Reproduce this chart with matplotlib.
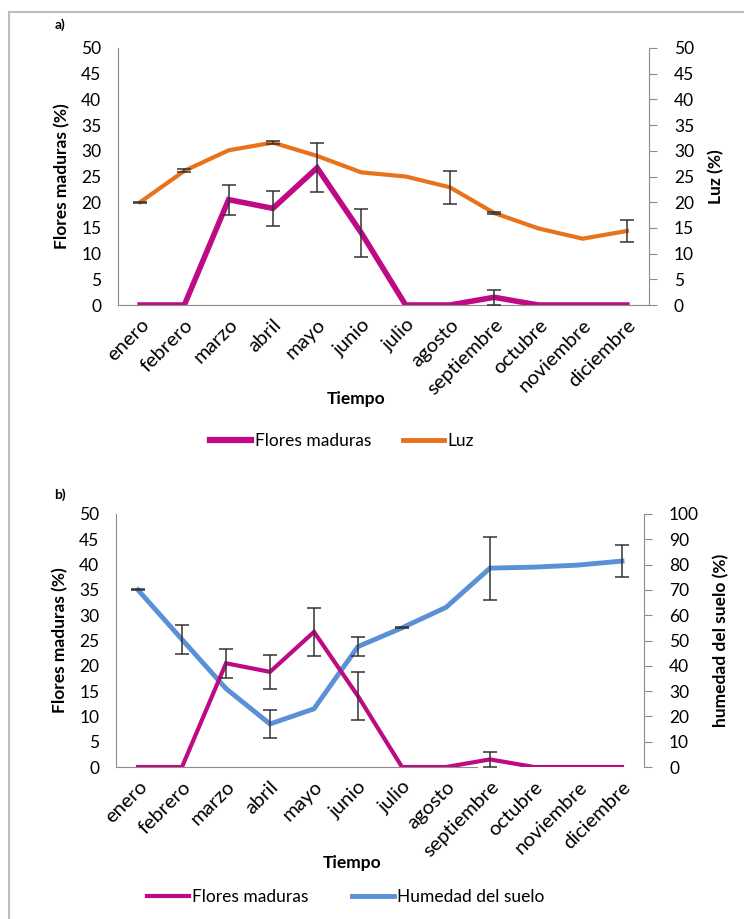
import matplotlib
matplotlib.use("Agg")
import matplotlib.pyplot as plt
from matplotlib.lines import Line2D
import numpy as np

plt.rcParams['font.family'] = ['Lato', 'DejaVu Sans']

meses = ["enero", "febrero", "marzo", "abril", "mayo", "junio", "julio",
         "agosto", "septiembre", "octubre", "noviembre", "diciembre"]

flores = [0, 0, 20.5, 18.8, 26.7, 14.0, 0, 0, 1.5, 0, 0, 0]
flores_err = [0, 0, 2.9, 3.4, 4.8, 4.7, 0, 0, 1.5, 0, 0, 0]

luz = [20.0, 26.1, 30.1, 31.6, 29.0, 25.8, 25.0, 22.9, 17.9, 14.9, 12.9, 14.4]
luz_err = [0.1, 0.3, 0, 0.3, 0, 0, 0, 3.2, 0.1, 0, 0, 2.1]

humedad = [70, 50.4, 31, 17, 23, 47.6, 55, 63.1, 78.6, 79, 79.8, 81.4]
humedad_err = [0.2, 5.6, 0, 5.7, 0, 3.8, 0.2, 0, 12.5, 0, 0, 6.2]

MAG = '#BE0A84'
ORA = '#E8731C'
BLU = '#5A90D6'
SPINE = '#8C8C8C'
ERRC = '#333333'

W, H = 744, 919
fig = plt.figure(figsize=(W / 100, H / 100), dpi=100)

def ax_rect(l, r, t, b):
    return [l / W, 1 - b / H, (r - l) / W, (b - t) / H]

# outer border (top & left)
fig.add_artist(Line2D([9 / W, 1.0], [1 - 12 / H, 1 - 12 / H], color='#BDBDBD', lw=1.5, transform=fig.transFigure))
fig.add_artist(Line2D([9 / W, 9 / W], [0, 1 - 12 / H], color='#BDBDBD', lw=1.5, transform=fig.transFigure))

x = np.arange(len(meses))
TICKFS = 12.5
MONFS = 14.5

def series(ax, vals, errs, color, lw):
    vals = np.asarray(vals, float)
    errs = np.asarray(errs, float)
    ax.plot(x, vals, color=color, lw=lw, solid_joinstyle='miter', zorder=2)
    m = errs > 0
    ax.errorbar(x[m], vals[m], yerr=errs[m], fmt='none', ecolor=ERRC,
                elinewidth=1.1, capsize=5, capthick=1.1, zorder=3)

def style(ax, ax2):
    for a in (ax, ax2):
        a.spines['top'].set_visible(False)
    ax.spines['right'].set_visible(False)
    ax2.spines['left'].set_visible(False)
    ax2.spines['bottom'].set_visible(False)
    ax.spines['left'].set_color(SPINE)
    ax.spines['bottom'].set_color(SPINE)
    ax2.spines['right'].set_color(SPINE)
    ax.tick_params(axis='y', length=0, pad=12, labelsize=TICKFS)
    ax.tick_params(axis='x', length=0, pad=8, labelsize=MONFS)
    ax2.tick_params(axis='y', length=6, color=SPINE, pad=12, labelsize=TICKFS)
    ax.set_xlim(-0.5, 11.5)
    ax.set_xticks(x)
    ax.set_xticklabels(meses, rotation=45, ha='right', va='top', rotation_mode='anchor')

# ---------------- panel a ----------------
ax = fig.add_axes(ax_rect(118, 649, 48, 305))
ax2 = ax.twinx()
series(ax2, luz, luz_err, ORA, 3)
ax.set_zorder(ax2.get_zorder() + 1)
ax.patch.set_visible(False)
series(ax, flores, flores_err, MAG, 4)
ax.set_ylim(0, 50)
ax2.set_ylim(0, 50)
ax.set_yticks(range(0, 51, 5))
ax2.set_yticks(range(0, 51, 5))
style(ax, ax2)
ax.set_ylabel("Flores maduras (%)", fontsize=12.5, fontweight='bold', labelpad=8)
ax2.set_ylabel("Luz (%)", fontsize=12.5, fontweight='bold', rotation=90, labelpad=10)
fig.text(356 / W, 1 - 399 / H, "Tiempo", ha='center', va='center', fontsize=12.5, fontweight='bold')
fig.text(60 / W, 1 - 25 / H, "a)", ha='center', va='center', fontsize=10, fontweight='bold')
h1 = Line2D([], [], color=MAG, lw=4.5)
h2 = Line2D([], [], color=ORA, lw=3.5)
fig.legend([h1, h2], ["Flores maduras", "Luz"], loc='center', bbox_to_anchor=(342 / W, 1 - 441 / H),
           ncol=2, frameon=False, fontsize=12.5, handlelength=2.4, handletextpad=0.2, columnspacing=1.8)

# ---------------- panel b ----------------
bx = fig.add_axes(ax_rect(116, 644, 514, 767))
bx2 = bx.twinx()
series(bx2, humedad, humedad_err, BLU, 3.5)
bx.set_zorder(bx2.get_zorder() + 1)
bx.patch.set_visible(False)
series(bx, flores, flores_err, MAG, 3)
bx.set_ylim(0, 50)
bx2.set_ylim(0, 100)
bx.set_yticks(range(0, 51, 5))
bx2.set_yticks(range(0, 101, 10))
style(bx, bx2)
bx.spines['bottom'].set_bounds(-0.5, 7.7)
bx.set_ylabel("Flores maduras (%)", fontsize=12.5, fontweight='bold', labelpad=8)
bx2.set_ylabel("humedad del suelo (%)", fontsize=12.5, fontweight='bold', rotation=90, labelpad=10)
fig.text(352 / W, 1 - 863 / H, "Tiempo", ha='center', va='center', fontsize=12.5, fontweight='bold')
fig.text(60 / W, 1 - 495 / H, "b)", ha='center', va='center', fontsize=10, fontweight='bold')
h3 = Line2D([], [], color=MAG, lw=3)
h4 = Line2D([], [], color=BLU, lw=3.5)
fig.legend([h3, h4], ["Flores maduras", "Humedad del suelo"], loc='center', bbox_to_anchor=(346 / W, 1 - 897 / H),
           ncol=2, frameon=False, fontsize=12.5, handlelength=2.4, handletextpad=0.2, columnspacing=2.5)

fig.savefig("out.png", dpi=100)
